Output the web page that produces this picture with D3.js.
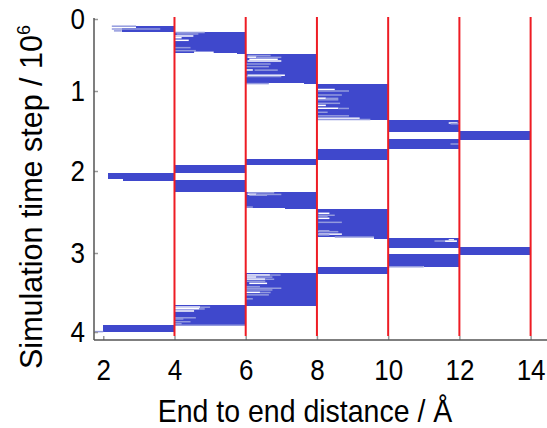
<!DOCTYPE html>
<html>
<head>
<meta charset="utf-8">
<script src="https://cdn.jsdelivr.net/npm/d3@7"></script>
<style>
  html, body { margin: 0; padding: 0; background: #fff; }
  svg { display: block; }
  text { font-family: "Liberation Sans", Arial, sans-serif; fill: #000; }
</style>
</head>
<body>
<svg id="chart" width="547" height="428"></svg>
<script>
// ---- data ----
// x: end-to-end distance (Å), y: simulation time step (10^6)
const xTicks = [2, 4, 6, 8, 10, 12, 14];
const yTicks = [0, 1, 2, 3, 4];
const binEdges = [4, 6, 8, 10, 12, 14];

// occupied bands: [tStart, tEnd, distanceFrom, distanceTo]
const bands = [
  [0.100, 0.175, 2.92, 4], [0.125, 0.175, 2.52, 2.92],
  [0.176, 0.476, 4, 6], [0.476, 0.486, 5.75, 6],
  [0.480, 0.893, 6, 8], [0.893, 0.903, 7.65, 8],
  [0.903, 1.360, 8, 10],
  [1.360, 1.510, 10, 12],
  [1.500, 1.610, 12, 14],
  [1.600, 1.725, 10, 12],
  [1.725, 1.860, 8, 10],
  [1.850, 1.930, 6, 8],
  [1.925, 2.030, 4, 6],
  [2.030, 2.100, 2.12, 4], [2.100, 2.120, 2.56, 4],
  [2.110, 2.260, 4, 6],
  [2.256, 2.455, 6, 8], [2.455, 2.467, 7.1, 8],
  [2.463, 2.800, 8, 10], [2.800, 2.830, 9.6, 10],
  [2.820, 2.935, 10, 12],
  [2.930, 3.020, 12, 14],
  [3.013, 3.170, 10, 12], [3.170, 3.180, 11.0, 12],
  [3.173, 3.270, 8, 10],
  [3.257, 3.670, 6, 8],
  [3.660, 3.910, 4, 6],
  [3.910, 4.000, 2.0, 4]
];

// individual time-step traces at band edges: [t, distanceFrom, distanceTo, kind]
// kind: "gap" = no trace, "partial" = sparse trace
const traces = [
  [0.100, 2.24, 2.92, "partial"], [0.140, 2.24, 3.6, "partial"], [0.165, 2.3, 2.52, "partial"],
  [0.1875, 4.0, 4.85, "partial"], [0.208, 4.06, 4.67, "partial"], [0.236, 4.0, 4.53, "gap"],
  [0.260, 4.0, 4.2, "gap"], [0.296, 4.0, 4.4, "gap"], [0.398, 4.0, 4.45, "partial"],
  [0.440, 4.0, 4.6, "partial"], [0.463, 4.55, 5.1, "gap"],
  [0.507, 6.05, 6.7, "partial"], [0.530, 6.05, 6.3, "gap"], [0.533, 6.3, 7.0, "partial"],
  [0.560, 6.1, 6.9, "gap"], [0.583, 6.05, 7.0, "gap"], [0.625, 6.0, 6.7, "partial"],
  [0.662, 6.0, 6.65, "partial"], [0.708, 6.0, 6.2, "gap"], [0.710, 6.25, 6.9, "partial"],
  [0.782, 6.05, 7.1, "gap"], [0.800, 6.0, 7.0, "partial"], [0.897, 6.0, 6.65, "partial"],
  [0.979, 8.03, 8.5, "gap"], [1.000, 8.03, 8.9, "partial"], [1.050, 8.03, 8.7, "partial"],
  [1.090, 8.03, 8.25, "gap"], [1.092, 8.25, 8.6, "partial"], [1.110, 8.03, 8.6, "partial"],
  [1.154, 8.03, 8.65, "partial"], [1.180, 8.03, 8.25, "gap"], [1.216, 8.03, 8.6, "gap"],
  [1.218, 8.6, 8.9, "partial"], [1.266, 8.03, 8.3, "partial"], [1.310, 8.03, 8.9, "partial"],
  [1.340, 8.03, 9.2, "gap"], [1.355, 8.03, 9.5, "partial"],
  [1.400, 11.7, 11.95, "gap"], [1.410, 11.75, 12.0, "partial"], [1.6625, 11.75, 12.0, "partial"],
  [2.265, 6.05, 6.8, "partial"], [2.284, 6.05, 6.3, "gap"], [2.286, 6.3, 7.0, "partial"],
  [2.296, 6.1, 6.6, "partial"], [2.440, 6.0, 6.2, "partial"],
  [2.516, 8.04, 8.35, "gap"], [2.540, 8.04, 8.5, "partial"], [2.550, 8.04, 8.3, "partial"],
  [2.577, 8.04, 8.35, "gap"], [2.626, 8.04, 8.7, "partial"], [2.735, 8.04, 8.35, "gap"],
  [2.740, 8.04, 8.6, "partial"], [2.770, 8.04, 8.7, "gap"], [2.780, 8.04, 8.35, "partial"],
  [2.805, 8.5, 9.6, "partial"],
  [2.840, 11.7, 11.85, "gap"], [2.854, 11.3, 11.93, "partial"], [2.856, 11.6, 11.93, "gap"],
  [3.175, 10.0, 11.0, "partial"],
  [3.278, 6.03, 6.68, "gap"], [3.279, 6.68, 6.98, "partial"], [3.304, 6.03, 6.3, "gap"],
  [3.305, 6.3, 6.75, "partial"], [3.330, 6.03, 6.55, "gap"], [3.332, 6.55, 6.8, "partial"],
  [3.358, 6.03, 6.55, "partial"], [3.384, 6.1, 6.6, "gap"], [3.426, 6.0, 6.4, "partial"],
  [3.447, 6.0, 7.0, "partial"], [3.468, 6.0, 6.75, "partial"], [3.498, 6.0, 6.4, "gap"],
  [3.500, 6.4, 6.7, "partial"], [3.530, 6.0, 6.65, "partial"], [3.580, 6.0, 6.2, "partial"],
  [3.684, 4.01, 4.72, "gap"], [3.686, 4.72, 5.0, "partial"], [3.706, 4.01, 4.7, "gap"],
  [3.708, 4.7, 4.85, "partial"], [3.734, 4.01, 4.55, "gap"], [3.820, 4.0, 4.6, "partial"],
  [3.835, 4.0, 4.25, "partial"], [3.870, 4.0, 4.45, "partial"], [3.895, 4.0, 4.2, "partial"],
  [3.915, 4.0, 6.0, "partial"], [3.995, 1.76, 2.0, "partial"]
];

const xLabel = "End to end distance / Å";
const yLabelMain = "Simulation time step / 10";
const yLabelSup = "6";

// ---- layout ----
const svg = d3.select("#chart");
const xMin = 1.74, xMax = 14.46;
const x = d3.scaleLinear().domain([xMin, xMax]).range([94, 547]);
const y = d3.scaleLinear().domain([0, 1, 2, 3, 4]).range([19, 91, 171, 253, 332]);
const tTop = -0.028, tRedBottom = 4.05;
const axisY = 340, axisTopY = 18;

const BLUE = "#3f48cc", LIGHT = "#939ade", RED = "#ee1c24";

// bands
svg.append("g").selectAll("rect").data(bands).join("rect")
  .attr("x", d => x(d[2]))
  .attr("y", d => y(d[0]))
  .attr("width", d => x(d[3]) - x(d[2]))
  .attr("height", d => y(d[1]) - y(d[0]))
  .attr("fill", BLUE)
  .attr("shape-rendering", "crispEdges");

// traces
svg.append("g").selectAll("line").data(traces).join("line")
  .attr("x1", d => x(d[1]))
  .attr("x2", d => x(d[2]))
  .attr("y1", d => y(d[0]))
  .attr("y2", d => y(d[0]))
  .attr("stroke", d => d[3] === "gap" ? "#ffffff" : LIGHT)
  .attr("stroke-width", 1.5);

// bin boundaries
svg.append("g").selectAll("line").data(binEdges).join("line")
  .attr("x1", d => x(d)).attr("x2", d => x(d))
  .attr("y1", y(tTop)).attr("y2", y(tRedBottom))
  .attr("stroke", RED).attr("stroke-width", 2);

// axes
const xAxis = d3.axisBottom(x).tickValues(xTicks).tickSize(-4).tickPadding(17).tickFormat(d3.format("d"));
const gx = svg.append("g").attr("transform", `translate(0,${axisY})`).call(xAxis);
gx.select(".domain").remove();
gx.selectAll(".tick line").attr("stroke", "#999").attr("stroke-width", 1.5);
gx.selectAll(".tick text").attr("font-size", 26).attr("font-family", "Liberation Sans, Arial, sans-serif")
  .attr("fill", "#000").attr("transform", "scale(1,1.12)");

const yAxis = d3.axisLeft(y).tickValues(yTicks).tickSize(-4).tickPadding(9).tickFormat(d3.format("d"));
const gy = svg.append("g").attr("transform", "translate(94,0)").call(yAxis);
gy.select(".domain").remove();
gy.selectAll(".tick line").attr("stroke", "#999").attr("stroke-width", 1.5);
gy.selectAll(".tick text").attr("font-size", 26).attr("font-family", "Liberation Sans, Arial, sans-serif")
  .attr("fill", "#000").attr("transform", "scale(1,1.12)");

svg.append("line").attr("x1", 94).attr("x2", 547).attr("y1", axisY).attr("y2", axisY)
  .attr("stroke", "#555").attr("stroke-width", 1.5);
svg.append("line").attr("x1", 94).attr("x2", 94).attr("y1", axisTopY).attr("y2", axisY)
  .attr("stroke", "#555").attr("stroke-width", 1.5);

// titles
svg.append("text").attr("transform", "translate(305,422) scale(1,1.1)").attr("text-anchor", "middle")
  .attr("font-size", 28.5).text(xLabel);

const yt = svg.append("text").attr("transform", "translate(42,197) rotate(-90)")
  .attr("text-anchor", "middle").attr("font-size", 30.5);
yt.append("tspan").text(yLabelMain);
yt.append("tspan").attr("font-size", 18).attr("dy", -12).text(yLabelSup);
</script>
</body>
</html>
